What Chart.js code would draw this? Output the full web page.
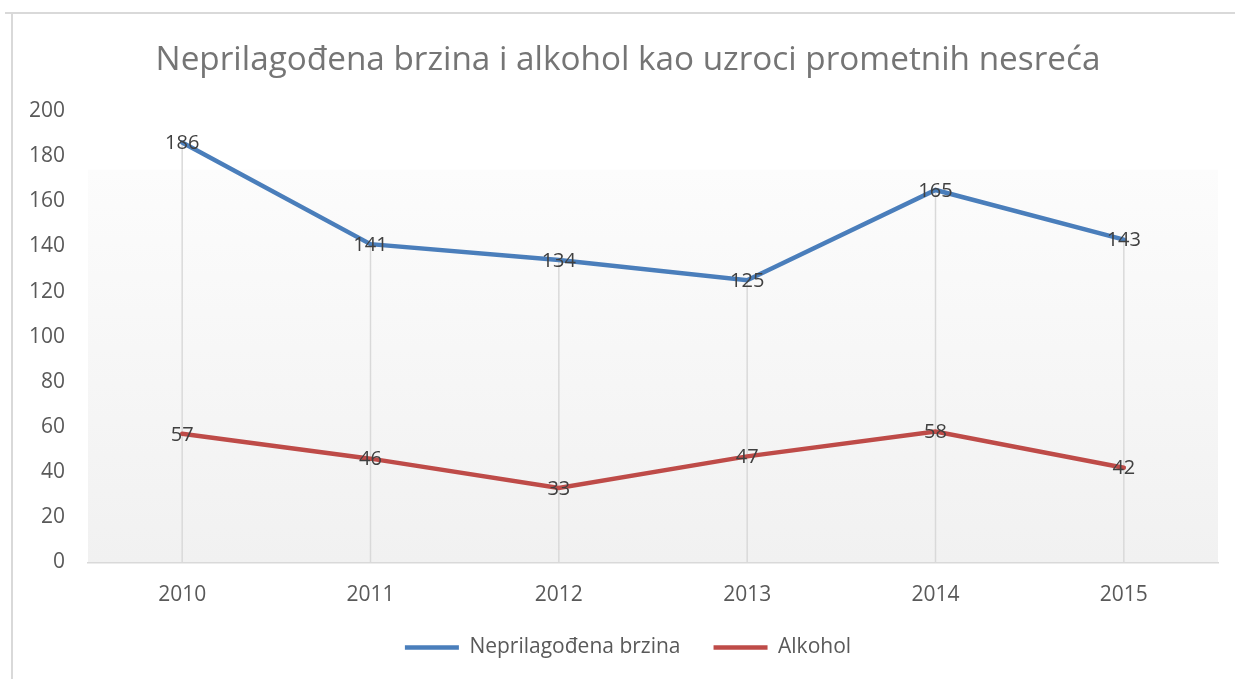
<!DOCTYPE html>
<html lang="hr">
  <head>
    <meta charset="utf-8" />
    <title>Neprilagođena brzina i alkohol</title>
    <style>
      * {
        margin: 0;
        padding: 0;
      }
      body {
        background: #ffffff;
      }
      .chartBox {
        width: 1235px;
        height: 679px;
        position: relative;
      }
    </style>
  </head>
  <body>
    <div class="chartBox">
      <canvas id="myChart"></canvas>
    </div>

    <script src="https://cdn.jsdelivr.net/npm/chart.js"></script>

    <script>
      // data block
      const years = ["2010", "2011", "2012", "2013", "2014", "2015"];
      const brzina = [186, 141, 134, 125, 165, 143];
      const alkohol = [57, 46, 33, 47, 58, 42];
      const seriesNames = ["Neprilagođena brzina", "Alkohol"];

      const FONT = "'Open Sans', 'Noto Sans', sans-serif";

      // frame + plot background
      const background = {
        id: "background",
        beforeDraw(chart) {
          const { ctx, chartArea: { left, right, bottom }, scales: { y } } = chart;
          ctx.save();
          ctx.strokeStyle = "#d9d9d9";
          ctx.lineWidth = 2;
          ctx.beginPath();
          ctx.moveTo(5, 13);
          ctx.lineTo(chart.width, 13);
          ctx.moveTo(12, 13);
          ctx.lineTo(12, chart.height);
          ctx.stroke();

          const top = y.getPixelForValue(174);
          const grad = ctx.createLinearGradient(0, top, 0, bottom);
          grad.addColorStop(0, "#fcfcfc");
          grad.addColorStop(1, "#f1f1f1");
          ctx.fillStyle = grad;
          ctx.fillRect(left, top, right - left, bottom - top);
          ctx.restore();
        },
      };

      // drop lines from the highest point down to the axis
      const dropLines = {
        id: "dropLines",
        beforeDatasetsDraw(chart) {
          const { ctx, chartArea: { bottom } } = chart;
          const metas = chart.data.datasets.map((d, i) => chart.getDatasetMeta(i));
          ctx.save();
          ctx.strokeStyle = "#d9d9d9";
          ctx.lineWidth = 1.5;
          metas[0].data.forEach((pt, i) => {
            const top = Math.min(...metas.map((m) => m.data[i].y));
            ctx.beginPath();
            ctx.moveTo(pt.x, top);
            ctx.lineTo(pt.x, bottom);
            ctx.stroke();
          });
          ctx.restore();
        },
      };

      // value labels centred on points
      const valueLabels = {
        id: "valueLabels",
        afterDatasetsDraw(chart) {
          const { ctx } = chart;
          ctx.save();
          ctx.font = "20px " + FONT;
          ctx.fillStyle = "#404040";
          ctx.textAlign = "center";
          ctx.textBaseline = "middle";
          chart.data.datasets.forEach((ds, i) => {
            chart.getDatasetMeta(i).data.forEach((pt, j) => {
              ctx.fillText(ds.data[j], pt.x, pt.y + 1);
            });
          });
          ctx.restore();
        },
      };

      const data = {
        labels: years,
        datasets: [
          {
            label: seriesNames[0],
            data: brzina,
            borderColor: "#4a7ebb",
            backgroundColor: "#4a7ebb",
            borderWidth: 4.5,
            borderCapStyle: "round",
            pointRadius: 0,
            tension: 0,
          },
          {
            label: seriesNames[1],
            data: alkohol,
            borderColor: "#be4b48",
            backgroundColor: "#be4b48",
            borderWidth: 4.5,
            borderCapStyle: "round",
            pointRadius: 0,
            tension: 0,
          },
        ],
      };

      // config block
      const config = {
        type: "line",
        data: data,
        options: {
          responsive: true,
          maintainAspectRatio: false,
          animation: false,
          layout: {
            padding: { left: 38, right: 17, top: 0, bottom: 11 },
          },
          plugins: {
            title: {
              display: true,
              text: "Neprilagođena brzina i alkohol kao uzroci prometnih nesreća",
              color: "#757575",
              font: { family: FONT, size: 33.3, weight: "normal" },
              padding: { top: 41, bottom: 30 },
            },
            legend: {
              position: "bottom",
              labels: {
                usePointStyle: true,
                pointStyle: "line",
                pointStyleWidth: 54,
                color: "#595959",
                font: { family: FONT, size: 21 },
                padding: 33,
              },
            },
            tooltip: { enabled: false },
          },
          scales: {
            x: {
              offset: true,
              grid: { display: false, drawTicks: false },
              border: { display: true, color: "#d9d9d9", width: 1.5 },
              ticks: {
                color: "#595959",
                font: { family: FONT, size: 21 },
                padding: 20,
              },
              afterFit(scale) {
                scale.height = 41.5;
              },
            },
            y: {
              min: 0,
              max: 200,
              grid: { display: false, drawTicks: false },
              border: { display: false },
              ticks: {
                stepSize: 20,
                color: "#595959",
                font: { family: FONT, size: 21 },
                padding: 23,
              },
              afterFit(scale) {
                scale.width = 50;
                // labels stick out past the left edge of the narrow box
                scale._computeLabelArea = () => undefined;
              },
            },
          },
        },
        plugins: [background, dropLines, valueLabels],
      };

      // init render block
      const myChart = new Chart(document.getElementById("myChart"), config);
    </script>
  </body>
</html>
